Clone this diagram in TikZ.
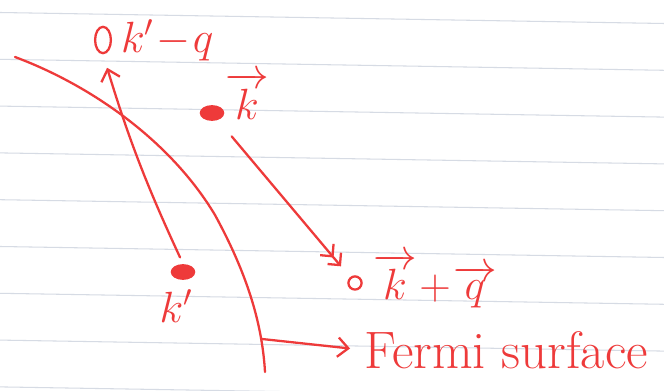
\documentclass[tikz,border=0pt]{standalone}
\usepackage{amsmath}
\usetikzlibrary{arrows.meta,positioning,calc,shapes.geometric}
\definecolor{cInk}{RGB}{238,58,58}
\definecolor{cRule}{RGB}{214,219,228}
\tikzset{
  inkline/.style={draw=cInk,line width=1.3pt,line cap=round},
  inkarr/.style={inkline,-{Straight Barb[length=6pt,width=11pt]}},
  dblarr/.style={inkline,-{Straight Barb[length=5pt,width=10pt]Straight Barb[length=5pt,width=10pt]}},
  fulldot/.style={ellipse,fill=cInk,inner sep=0pt,minimum width=14pt,minimum height=9pt},
  holedot/.style={ellipse,draw=cInk,line width=1.3pt,inner sep=0pt},
  lbl/.style={text=cInk,inner sep=0pt,font=\fontsize{24}{26}\selectfont},
  biglbl/.style={text=cInk,inner sep=0pt,font=\fontsize{30}{32}\selectfont}
  ,rule/.style={draw=cRule,line width=0.6pt}
}

\begin{document}
\begin{tikzpicture}[x=0.02cm,y=-0.02cm]

  % Paper and ruled lines
  \fill[white] (0,0) rectangle (664,391);
  \useasboundingbox (0,0) rectangle (664,391);
  \foreach \i in {0,...,8}
    \draw[rule] (0,12.5+46.8*\i) -- (664,23.5+46.8*\i);

  % Fermi surface
  \draw[inkline] (15,57) .. controls (90,85) and (170,140) .. (215,215)
                         .. controls (245,270) and (262,320) .. (265,372);
  \coordinate (fs) at (262,339);

  % Occupied states
  \node[fulldot] (k) at (212,113) {};
  \node[fulldot] (kp) at (183,272) {};
  \node[lbl] (klbl) at (247,96) {$\overrightarrow{k}$};
  \node[lbl] (kplbl) at (176,306) {$k'$};

  % Empty states
  \node[holedot,minimum width=9pt,minimum height=15pt] (hole1) at (103,40) {};
  \node[lbl,right=5pt of hole1] (h1lbl) {$k'\!-\!q$};
  \node[holedot,minimum width=7.5pt,minimum height=7.5pt] (hole2) at (355,283) {};
  \node[lbl] (h2lbl) at (435,281) {$\overrightarrow{k}\!+\!\overrightarrow{q}$};

  % Labels
  \node[biglbl,anchor=west] (fslbl) at (364,350) {Fermi surface};

  % Arrows
  \draw[inkarr,shorten <=4pt,shorten >=8pt] (kp.north) to[bend left=4] (hole1.south);
  \draw[dblarr,shorten <=12pt,shorten >=8pt] (k) -- (hole2);
  \draw[inkarr,shorten >=8pt] (fs) -- (fslbl.west);

\end{tikzpicture}
\end{document}
